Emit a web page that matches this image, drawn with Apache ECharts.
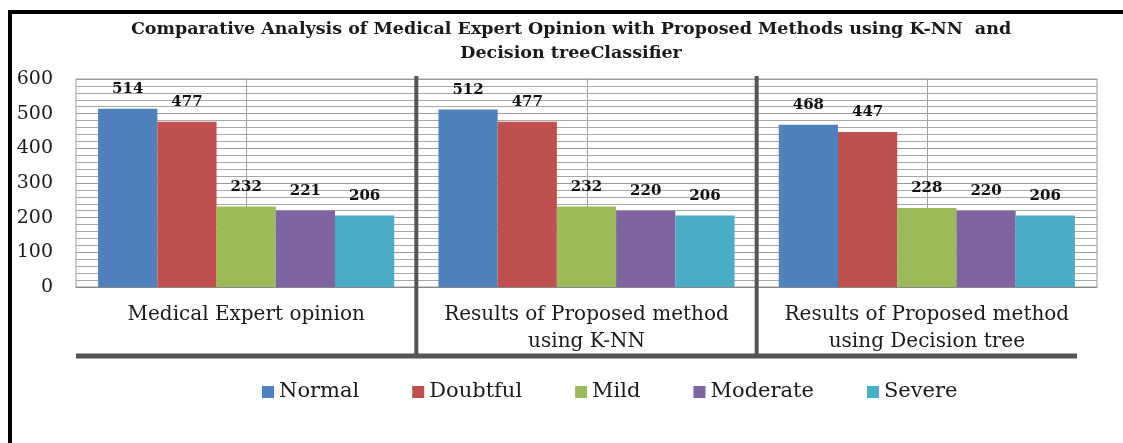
<!DOCTYPE html>
<html>
<head>
<meta charset="utf-8">
<script src="https://cdn.jsdelivr.net/npm/echarts@6/dist/echarts.min.js"></script>
<style>
  html, body { margin: 0; padding: 0; background: #fff; }
  #chart { width: 1123px; height: 443px; }
</style>
</head>
<body>
<div id="chart"></div>
<script>
const titleText = 'Comparative Analysis of Medical Expert Opinion with Proposed Methods using K-NN  and\nDecision treeClassifier';
const categories = ['Medical Expert opinion', 'Results of Proposed method\nusing K-NN', 'Results of Proposed method\nusing Decision tree'];
const seriesNames = ['Normal', 'Doubtful', 'Mild', 'Moderate', 'Severe'];
const normal = [514, 512, 468];
const doubtful = [477, 477, 447];
const mild = [232, 232, 228];
const moderate = [221, 220, 220];
const severe = [206, 206, 206];
const yMin = 0, yMax = 600, yStep = 100;
const colors = ['#4F81BD', '#C0504D', '#9BBB59', '#8064A2', '#4BACC6'];

const values = [normal, doubtful, mild, moderate, severe];
const chart = echarts.init(document.getElementById('chart'));

function renderCenterLines(params, api) {
  const i = api.value(0);
  const top = api.coord([i, yMax]);
  const bot = api.coord([i, yMin]);
  return { type: 'line', silent: true,
    shape: { x1: Math.round(top[0]) + 0.5, y1: top[1], x2: Math.round(bot[0]) + 0.5, y2: bot[1] },
    style: { stroke: '#a3a3a3', lineWidth: 1 } };
}
function renderSeparators(params, api) {
  const i = api.value(0);
  const cs = params.coordSys;
  const bw = api.size([1, 0])[0];
  const c = api.coord([i, yMax]);
  const children = [];
  if (i < categories.length - 1) {
    const x = c[0] + bw / 2;
    children.push({ type: 'line', shape: { x1: x, y1: cs.y - 3, x2: x, y2: cs.y + cs.height + 71 },
      style: { stroke: '#555555', lineWidth: 4 } });
  }
  if (i === 0) {
    children.push({ type: 'line', shape: { x1: cs.x, y1: cs.y + cs.height + 69, x2: cs.x + cs.width - 20, y2: cs.y + cs.height + 69 },
      style: { stroke: '#555555', lineWidth: 5 } });
  }
  return { type: 'group', silent: true, children };
}

const barSeries = seriesNames.map((name, k) => ({
  name, type: 'bar', data: values[k], barGap: 0, barCategoryGap: '13%',
  itemStyle: { color: colors[k] }, z: 3,
  label: { show: true, position: 'top', distance: 12, color: '#111',
    fontFamily: 'DejaVu Serif', fontWeight: 'bold', fontSize: 15 }
}));

const option = {
  animation: false,
  backgroundColor: '#ffffff',
  title: {
    text: titleText, left: 571, top: 17, padding: 0, textAlign: 'center',
    textStyle: { fontFamily: 'DejaVu Serif', fontWeight: 'bold', fontSize: 17.5, color: '#1a1a1a', lineHeight: 24 }
  },
  graphic: [{ type: 'rect', silent: true, shape: { x: 10, y: 12, width: 1300, height: 600 },
    style: { fill: 'none', stroke: '#000', lineWidth: 4 }, z: 100 }],
  legend: {
    data: seriesNames, left: 262, top: 380, padding: 0, itemWidth: 12, itemHeight: 12, itemGap: 53,
    icon: 'rect',
    textStyle: { fontFamily: 'DejaVu Serif', fontSize: 21, color: '#1a1a1a', lineHeight: 24 }
  },
  grid: { left: 76, right: 26, top: 79, bottom: 156, show: true, borderColor: '#999', borderWidth: 1, containLabel: false },
  xAxis: {
    type: 'category', data: categories,
    axisTick: { show: false },
    axisLine: { lineStyle: { color: '#888', width: 1 } },
    axisLabel: { margin: 14, fontFamily: 'DejaVu Serif', fontSize: 20, color: '#1a1a1a', lineHeight: 27, interval: 0 },
    splitLine: { show: false }
  },
  yAxis: {
    type: 'value', min: yMin, max: yMax, interval: yStep,
    axisLine: { show: false }, axisTick: { show: false },
    axisLabel: { margin: 23, fontFamily: 'DejaVu Serif', fontSize: 19, color: '#1a1a1a' },
    splitLine: { lineStyle: { color: '#9a9a9a', width: 1 } },
    minorTick: { show: false, splitNumber: 5 },
    minorSplitLine: { show: true, lineStyle: { color: '#a8a8a8', width: 1 } }
  },
  series: [
    { type: 'custom', name: 'centerLines', renderItem: renderCenterLines, data: categories.map((c, i) => [i, yMax]),
      encode: { x: 0, y: 1 }, z: 1, silent: true, clip: false, tooltip: { show: false } },
    ...barSeries,
    { type: 'custom', name: 'separators', renderItem: renderSeparators, data: categories.map((c, i) => [i, yMax]),
      encode: { x: 0, y: 1 }, z: 10, silent: true, clip: false }
  ]
};
chart.setOption(option);
</script>
</body>
</html>
